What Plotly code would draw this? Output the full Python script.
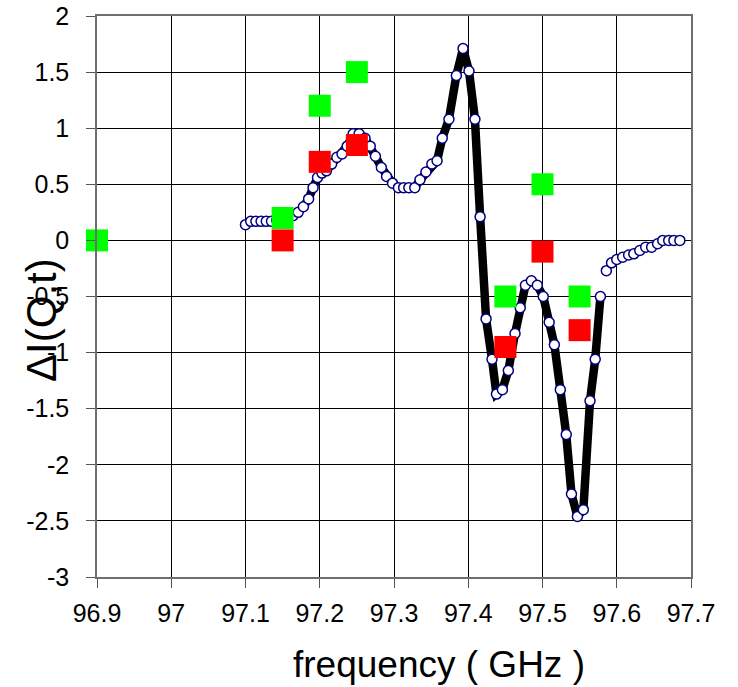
import plotly.graph_objects as go

# Measured spectrum: frequency (GHz) and ΔI(Q,t)
freq = [
    97.100, 97.107, 97.114, 97.121, 97.128, 97.135, 97.142, 97.150, 97.157, 97.164,
    97.171, 97.178, 97.185, 97.191, 97.197, 97.203, 97.209, 97.216, 97.223, 97.230,
    97.237, 97.245, 97.253, 97.261, 97.268, 97.275, 97.283, 97.290, 97.298, 97.306,
    97.313, 97.320, 97.328, 97.335, 97.343, 97.351, 97.358, 97.365, 97.374, 97.384,
    97.393, 97.401, 97.409, 97.416, 97.424, 97.432, 97.438, 97.446, 97.454, 97.463,
    97.470, 97.477, 97.485, 97.493, 97.501, 97.509, 97.516, 97.524, 97.532, 97.539,
    97.547, 97.555, 97.564, 97.571, 97.578, 97.586, 97.593, 97.600, 97.608, 97.616,
    97.623, 97.631, 97.639, 97.647, 97.655, 97.662, 97.670, 97.677, 97.685,
]
delta_i = [
    0.14, 0.17, 0.17, 0.17, 0.17, 0.17, 0.18, 0.19, 0.20, 0.22,
    0.25, 0.30, 0.37, 0.47, 0.56, 0.60, 0.62, 0.68, 0.74, 0.77,
    0.84, 0.95, 0.95, 0.91, 0.84, 0.75, 0.65, 0.57, 0.51, 0.47,
    0.47, 0.47, 0.47, 0.54, 0.61, 0.68, 0.71, 0.91, 1.08, 1.47,
    1.71, 1.51, 1.08, 0.21, -0.70, -1.06, -1.37, -1.33, -1.16, -0.83,
    -0.60, -0.40, -0.36, -0.40, -0.50, -0.73, -0.93, -1.33, -1.73, -2.26,
    -2.46, -2.40, -1.43, -1.06, -0.50, -0.27, -0.20, -0.17, -0.15, -0.13,
    -0.12, -0.09, -0.06, -0.06, -0.03, 0.00, 0.00, 0.00, 0.00,
]

# Range covered by the fitted (thick) curve
fit_start, fit_end = 97.175, 97.580
fit_x = [f for f in freq if fit_start <= f <= fit_end]
fit_y = [v for f, v in zip(freq, delta_i) if fit_start <= f <= fit_end]

# Model predictions at discrete frequencies
model_freq = [96.90, 97.15, 97.20, 97.25, 97.45, 97.50, 97.55]
model_green = [0.0, 0.2, 1.2, 1.5, -0.5, 0.5, -0.5]
model_red_freq = [97.15, 97.20, 97.25, 97.45, 97.50, 97.55]
model_red = [0.0, 0.7, 0.85, -0.95, -0.1, -0.8]

x_ticks = [96.9, 97.0, 97.1, 97.2, 97.3, 97.4, 97.5, 97.6, 97.7]
x_tick_text = ["96.9", "97", "97.1", "97.2", "97.3", "97.4", "97.5", "97.6", "97.7"]
y_ticks = [2, 1.5, 1, 0.5, 0, -0.5, -1, -1.5, -2, -2.5, -3]
y_tick_text = ["2", "1.5", "1", "0.5", "0", "-0.5", "-1", "-1.5", "-2", "-2.5", "-3"]

FONT = "Liberation Sans, Arial, sans-serif"

fig = go.Figure()

fig.add_trace(go.Scatter(
    x=fit_x, y=fit_y, mode="lines",
    line=dict(color="black", width=8.5),
    hoverinfo="skip",
))
fig.add_trace(go.Scatter(
    x=freq, y=delta_i, mode="markers",
    marker=dict(symbol="circle", size=10, color="white",
                line=dict(color="#000080", width=1.5)),
))
fig.add_trace(go.Scatter(
    x=model_freq, y=model_green, mode="markers",
    marker=dict(symbol="square", size=22, color="#00FF00", line=dict(width=0)),
    cliponaxis=False,
))
fig.add_trace(go.Scatter(
    x=model_red_freq, y=model_red, mode="markers",
    marker=dict(symbol="square", size=22, color="#FF0000", line=dict(width=0)),
    cliponaxis=False,
))

axis_common = dict(
    showgrid=True, gridcolor="black", gridwidth=1,
    showline=True, linecolor="#6e6e6e", linewidth=1.5, mirror=True,
    ticks="outside", ticklen=9, tickcolor="#555555", tickwidth=1,
    tickfont=dict(family=FONT, size=25, color="black"),
    zeroline=False, automargin=False,
)

fig.update_xaxes(
    range=[96.9, 97.7], tickmode="array", tickvals=x_ticks, ticktext=x_tick_text,
    ticklabelstandoff=4, **axis_common,
)
fig.update_yaxes(
    range=[-3, 2], tickmode="array", tickvals=y_ticks, ticktext=y_tick_text,
    ticklabelstandoff=12, **axis_common,
)

fig.add_annotation(
    text="ΔI(Q,t)", xref="paper", yref="paper",
    x=(41 - 97) / 594, y=(577 - 320) / 561,
    xanchor="center", yanchor="middle", textangle=-90, showarrow=False,
    font=dict(family=FONT, size=42, color="black"),
)
fig.add_annotation(
    text="frequency ( GHz )", xref="paper", yref="paper",
    x=(439 - 97) / 594, y=-(664 - 577) / 561,
    xanchor="center", yanchor="middle", showarrow=False,
    font=dict(family=FONT, size=37, color="black"),
)

fig.update_layout(
    width=738, height=687,
    margin=dict(l=97, r=47, t=16, b=110, autoexpand=False),
    paper_bgcolor="white", plot_bgcolor="white",
    showlegend=False,
)

fig.write_html("out.html")
